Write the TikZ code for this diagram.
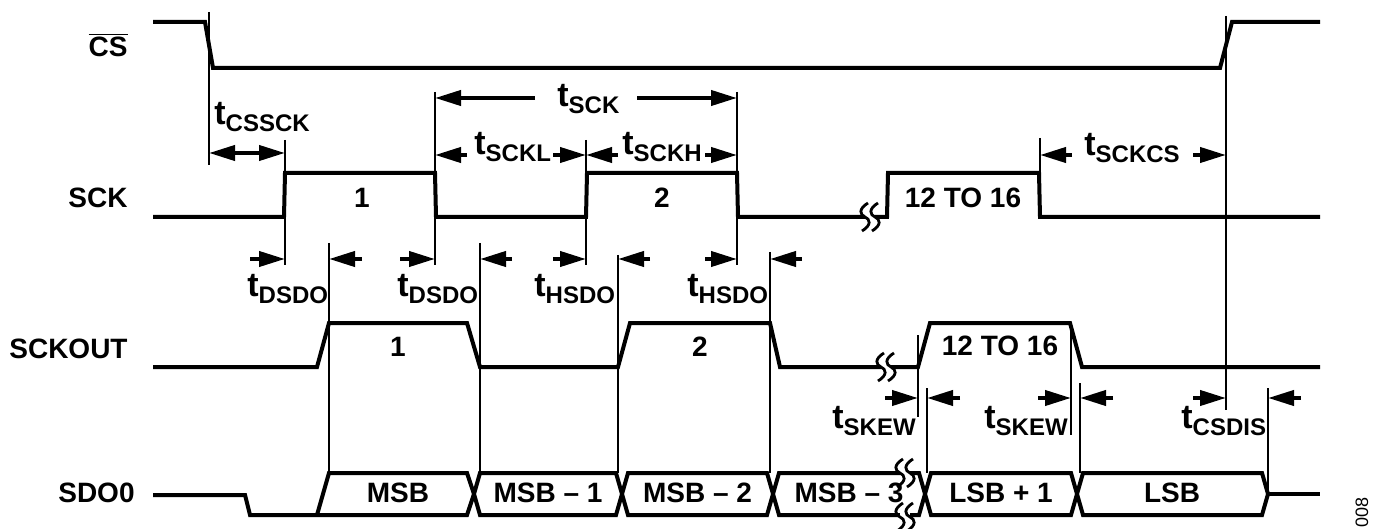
\documentclass[tikz,border=0pt]{standalone}
\usepackage{fontspec}
\setmainfont{Liberation Sans}
\usetikzlibrary{arrows.meta}
\newcommand{\tsub}[1]{{\fontsize{17}{18}\selectfont t}\raisebox{-3.5pt}{\fontsize{12}{13}\selectfont #1}}
\newcommand{\brkwave}[2]{(#1+3,#2-14) .. controls (#1-7,#2-8) and (#1-5,#2-2) .. (#1,#2) .. controls (#1+5,#2+2) and (#1+7,#2+8) .. (#1-3,#2+14)}
\newcommand{\brkmark}[2]{%
  \fill[white] (#1-5,#2-4) rectangle (#1+5,#2+4);
  \draw[brk] \brkwave{#1-5}{#2};
  \draw[brk] \brkwave{#1+5}{#2};}
\newcommand{\busseg}[3]{%
  \draw[sig] (#1,494) -- (#1+6,473) -- (#2-6,473) -- (#2,494) -- (#2-6,515) -- (#1+6,515) -- cycle;
  \node[lab] at ({(#1+#2)/2},502) {#3};}

\begin{document}
\begin{tikzpicture}[x=0.5pt,y=-0.5pt,
    sig/.style={line width=2pt,line join=miter},
    guide/.style={line width=0.75pt},
    brk/.style={line width=1.4pt},
    tm/.style={line width=2pt,-{Triangle[length=13pt,width=7.5pt]}},
    tmboth/.style={line width=2pt,{Triangle[length=13pt,width=7.5pt]}-{Triangle[length=13pt,width=7.5pt]}},
    lab/.style={font=\fontsize{14}{15}\selectfont\bfseries,anchor=base,inner sep=0pt},
    signame/.style={font=\fontsize{14}{15}\selectfont\bfseries,anchor=base east,inner sep=0pt},
    tlab/.style={font=\bfseries,anchor=base west,inner sep=0pt}]
    \useasboundingbox (0,0) rectangle (1381,529);
    % signal names
    \node[signame] (nCS) at (128,57) {$\overline{\hbox{CS}}$};
    \node[signame] (nSCK) at (128,208) {SCK};
    \node[signame] (nSCKOUT) at (128,358) {SCKOUT};
    \node[signame] (nSDO) at (135,502) {SDO0};
    % waveforms
    \draw[sig] (153,22) -- (205,22) -- (213,68) -- (1220,68) -- (1232,22) -- (1320,22);
    \draw[sig] (153,217) -- (284,217) -- (285,173) -- (435,173) -- (436,217) -- (586,217) -- (587,173)
        -- (737,173) -- (738,217) -- (887,217) -- (888,173) -- (1039,173) -- (1040,217) -- (1320,217);
    \draw[sig] (153,367) -- (317,367) -- (329,323) -- (467,323) -- (480,367) -- (618,367) -- (630,323)
        -- (770,323) -- (780,367) -- (918,367) -- (930,323) -- (1070,323) -- (1082,367) -- (1320,367);
    \draw[sig] (153,495) -- (245,495) -- (250,515) -- (467,515) -- (474,494);
    \draw[sig] (317,515) -- (329,473) -- (467,473) -- (474,494);
    \busseg{474}{622}{MSB -- 1}
    \busseg{622}{773}{MSB -- 2}
    \busseg{773}{925}{MSB -- 3}
    \busseg{925}{1077}{LSB + 1}
    \draw[sig] (1077,494) -- (1083,473) -- (1262,473) -- (1268,494) -- (1262,515) -- (1083,515) -- cycle;
    \draw[sig] (1268,494) -- (1320,494);
    \node[lab] (dMSB) at (398,502) {MSB};
    \node[lab] (dLSB) at (1172,502) {LSB};
    % pulse numbers
    \node[lab] (p1) at (362,208) {1};
    \node[lab] (p2) at (662,208) {2};
    \node[lab] (p3) at (963,208) {12 TO 16};
    \node[lab] (q1) at (398,357) {1};
    \node[lab] (q2) at (700,357) {2};
    \node[lab] (q3) at (1000,355) {12 TO 16};
    % break marks
    \brkmark{870}{217}
    \brkmark{886}{367}
    \brkmark{905}{473}
    \brkmark{905}{517}
    % guide lines
    \foreach \gx/\ga/\gb in {209/12/165, 285/140/265, 435/92/265, 586/140/265, 737/92/265,
        1040/138/217, 1226/16/410, 329/243/473, 480/243/473, 618/255/473, 770/252/473,
        918/335/417, 927/388/473, 1071/322/435, 1080/383/473, 1268/388/494}
      \draw[guide] (\gx,\ga) -- (\gx,\gb);
    % timing arrows
    \draw[tmboth] (209,153) -- (285,153);
    \draw[tm] (535,98) -- (435,98);
    \draw[tm] (637,98) -- (737,98);
    \foreach \ta/\tb/\ty in {467/435/155, 553/586/155, 618/586/155, 705/737/155, 1072/1040/155, 1193/1226/155,
        250/285/259, 362/329/259, 400/435/259, 512/480/259, 553/586/259, 650/618/259, 705/737/259, 802/770/259,
        885/918/398, 960/927/398, 1038/1071/398, 1113/1080/398, 1193/1226/398, 1301/1268/398}
      \draw[tm] (\ta,\ty) -- (\tb,\ty);
    % timing labels
    \node[tlab] (tCSSCK) at (214,125) {\tsub{CSSCK}};
    \node[tlab] (tSCK) at (557,107) {\tsub{SCK}};
    \node[tlab] (tSCKL) at (474,155) {\tsub{SCKL}};
    \node[tlab] (tSCKH) at (622,155) {\tsub{SCKH}};
    \node[tlab] (tSCKCS) at (1084,156) {\tsub{SCKCS}};
    \node[tlab] (tDSDOa) at (247,297) {\tsub{DSDO}};
    \node[tlab] (tDSDOb) at (397,297) {\tsub{DSDO}};
    \node[tlab] (tHSDOa) at (534,297) {\tsub{HSDO}};
    \node[tlab] (tHSDOb) at (687,297) {\tsub{HSDO}};
    \node[tlab] (tSKEWa) at (832,428) {\tsub{SKEW}};
    \node[tlab] (tSKEWb) at (984,428) {\tsub{SKEW}};
    \node[tlab] (tCSDIS) at (1181,428) {\tsub{CSDIS}};
    \node[rotate=90,font=\fontsize{9}{10}\selectfont,inner sep=0pt] (fig) at (1362,512) {008};
\end{tikzpicture}
\end{document}
